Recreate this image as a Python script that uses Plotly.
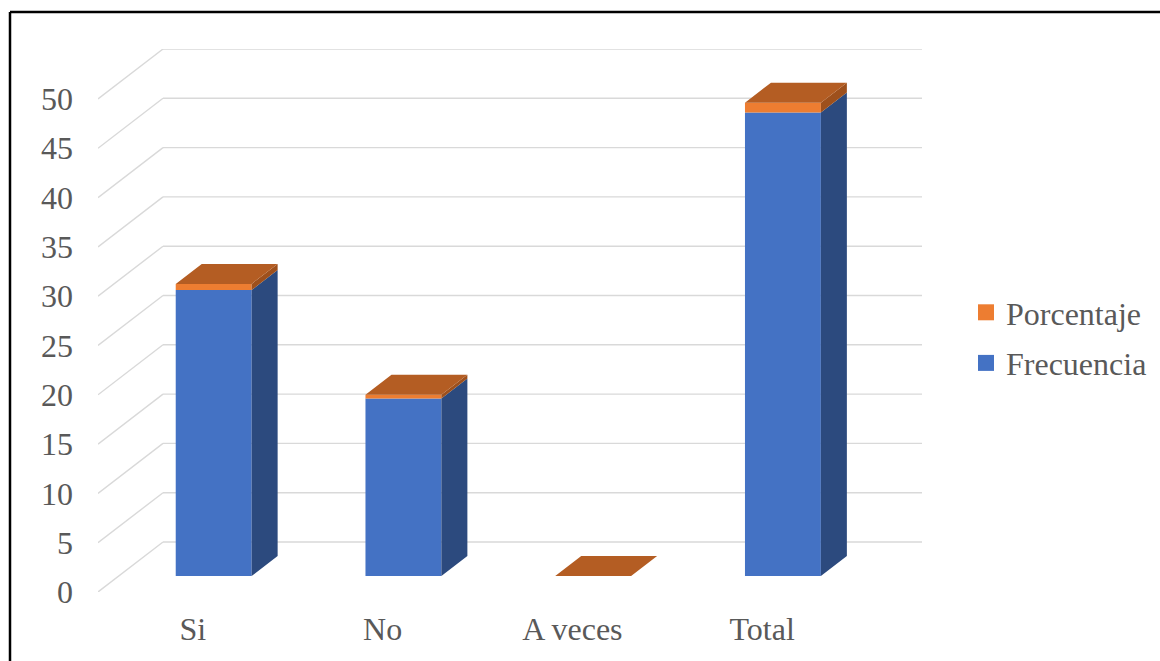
import plotly.graph_objects as go

# ---- data ----
categories = ["Si", "No", "A veces", "Total"]
frecuencia = [29, 18, 0, 47]
porcentaje = [0.62, 0.38, 0, 1.0]
y_ticks = [0, 5, 10, 15, 20, 25, 30, 35, 40, 45, 50]

# ---- pseudo-3D geometry (in axis units) ----
DX, DY = 0.3426, 5.07      # full depth offset
Z0, ZD = 0.32, 0.40        # bar depth start / depth length (fraction)
BW = 0.40                  # bar width (category units)

BLUE, BLUE_SIDE = "#4472C4", "#2C4A7E"
ORANGE, ORANGE_SIDE, ORANGE_TOP = "#ED7D31", "#9E501C", "#B45D23"
GRID = "#D9D9D9"
TXT = "#595959"
FONT = "Times New Roman, Liberation Serif, serif"
FS = 32

W, H = 1160, 661
L, R, T, B = 98, 922, 49, 592
n = len(categories)
xr0, xr1 = -0.5, n - 0.5 + DX
yr0, yr1 = 0, max(y_ticks) + DY

fig = go.Figure()

# gridlines (floor/back wall), under traces
for v in y_ticks:
    fig.add_shape(type="line", x0=xr0, y0=v, x1=xr0 + DX, y1=v + DY,
                  line=dict(color=GRID, width=1.4), layer="below")
    fig.add_shape(type="line", x0=xr0 + DX, y0=v + DY, x1=xr1, y1=v + DY,
                  line=dict(color=GRID, width=1.4), layer="below")

xs = [i + Z0 * DX for i in range(n)]
base0 = [Z0 * DY] * n
base1 = [f + Z0 * DY for f in frecuencia]

fig.add_trace(go.Bar(x=xs, y=frecuencia, base=base0, width=BW, name="Frecuencia",
                     marker=dict(color=BLUE, line=dict(width=0)), showlegend=False))
fig.add_trace(go.Bar(x=xs, y=porcentaje, base=base1, width=BW, name="Porcentaje",
                     marker=dict(color=ORANGE, line=dict(width=0)), showlegend=False))


def side_poly(segments):
    px, py = [], []
    for i, (lo, hi) in enumerate(segments):
        if hi - lo <= 0:
            continue
        xr = xs[i] + BW / 2
        px += [xr, xr + ZD * DX, xr + ZD * DX, xr, xr, None]
        py += [lo + Z0 * DY, lo + (Z0 + ZD) * DY, hi + (Z0 + ZD) * DY, hi + Z0 * DY, lo + Z0 * DY, None]
    return px, py


sx, sy = side_poly([(0, f) for f in frecuencia])
fig.add_trace(go.Scatter(x=sx, y=sy, fill="toself", fillcolor=BLUE_SIDE, mode="lines",
                         line=dict(width=0, color=BLUE_SIDE), hoverinfo="skip", showlegend=False))
sx, sy = side_poly([(f, f + p) for f, p in zip(frecuencia, porcentaje)])
fig.add_trace(go.Scatter(x=sx, y=sy, fill="toself", fillcolor=ORANGE_SIDE, mode="lines",
                         line=dict(width=0, color=ORANGE_SIDE), hoverinfo="skip", showlegend=False))

tx, ty = [], []
for i, (f, p) in enumerate(zip(frecuencia, porcentaje)):
    top = f + p
    xl, xr = xs[i] - BW / 2, xs[i] + BW / 2
    tx += [xl, xr, xr + ZD * DX, xl + ZD * DX, xl, None]
    ty += [top + Z0 * DY, top + Z0 * DY, top + (Z0 + ZD) * DY, top + (Z0 + ZD) * DY, top + Z0 * DY, None]
fig.add_trace(go.Scatter(x=tx, y=ty, fill="toself", fillcolor=ORANGE_TOP, mode="lines",
                         line=dict(width=0, color=ORANGE_TOP), hoverinfo="skip", showlegend=False))

# legend entries
fig.add_trace(go.Scatter(x=[None], y=[None], mode="markers", name="Porcentaje",
                         legendgroup="p",
                         marker=dict(symbol="square", size=17, color=ORANGE)))
fig.add_trace(go.Scatter(x=[None], y=[None], mode="markers", name="Frecuencia",
                         legendgroup="f",
                         marker=dict(symbol="square", size=17, color=BLUE)))


def px2x(p):
    return (p - L) / (R - L)


def px2y(p):
    return (B - p) / (B - T)


# outer frame (left and top edges visible)
fig.add_shape(type="line", xref="paper", yref="paper", x0=px2x(10), y0=px2y(700),
              x1=px2x(10), y1=px2y(12), line=dict(color="black", width=2.5))
fig.add_shape(type="line", xref="paper", yref="paper", x0=px2x(10), y0=px2y(12),
              x1=px2x(1200), y1=px2y(12), line=dict(color="black", width=2.5))

fig.update_layout(
    width=W, height=H,
    margin=dict(l=L, r=W - R, t=T, b=H - B, autoexpand=False),
    paper_bgcolor="white", plot_bgcolor="white",
    barmode="overlay",
    font=dict(family=FONT, color=TXT, size=FS),
    legend=dict(x=px2x(966), y=px2y(338), xanchor="left", yanchor="middle",
                traceorder="grouped", tracegroupgap=6,
                font=dict(family=FONT, color=TXT, size=FS), bgcolor="rgba(0,0,0,0)"),
    xaxis=dict(range=[xr0, xr1], tickvals=list(range(n)), ticktext=categories,
               showgrid=False, zeroline=False, showline=False, ticks="",
               ticklabelstandoff=15, tickfont=dict(family=FONT, color=TXT, size=FS)),
    yaxis=dict(range=[yr0, yr1], tickvals=y_ticks, showgrid=False, zeroline=False,
               showline=False, ticks="", ticklabelstandoff=24,
               tickfont=dict(family=FONT, color=TXT, size=FS)),
)

fig.write_html("out.html")
